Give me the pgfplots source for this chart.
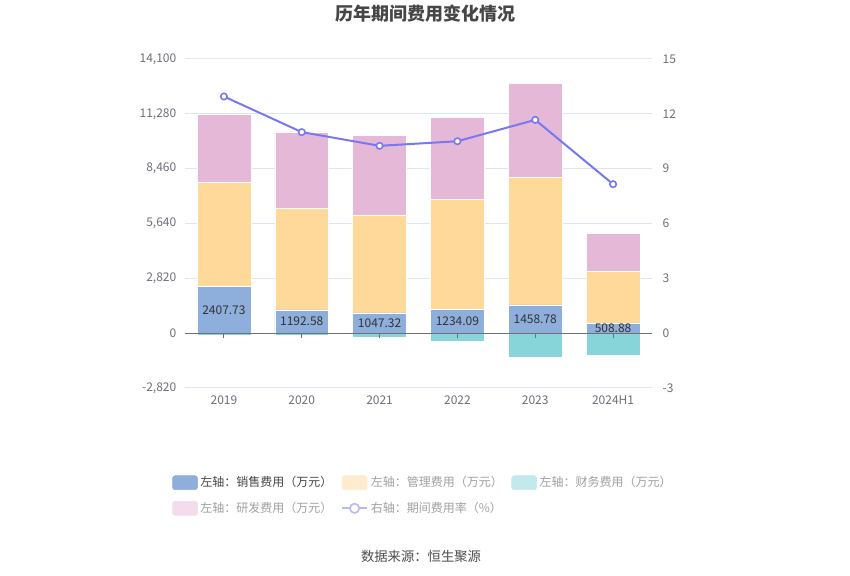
\documentclass[border=0pt]{standalone}
\usepackage{fontspec}
\setmainfont{Noto Sans CJK SC}
\usepackage{pgfplots}
\pgfplotsset{compat=1.18}
\definecolor{salesc}{RGB}{142,174,219}
\definecolor{mgmtc}{RGB}{255,217,154}
\definecolor{finc}{RGB}{135,213,216}
\definecolor{rdc}{RGB}{230,184,216}
\definecolor{linec}{RGB}{120,120,245}
\definecolor{gridc}{RGB}{224,230,241}
\definecolor{axisc}{RGB}{110,112,121}
\definecolor{labc}{RGB}{110,112,121}
\definecolor{mgmtL}{RGB}{255,236,206}
\definecolor{finL}{RGB}{194,234,236}
\definecolor{rdL}{RGB}{243,220,236}
\definecolor{lineL}{RGB}{185,185,250}
\definecolor{legd}{RGB}{70,70,70}
\definecolor{legl}{RGB}{160,160,160}
\definecolor{titc}{RGB}{70,70,70}
\begin{document}
\begin{tikzpicture}
\path[use as bounding box, fill=white] (0,0) rectangle (637.5pt,431.25pt);
\pgfplotsset{base/.style={at={(138.75pt,140.25pt)}, anchor=south west, scale only axis,
  width=350.25pt, height=246.75pt, xmin=-0.5, xmax=5.5, ymin=-2820, ymax=14100,
  /pgf/number format/assume math mode=true,
  ticklabel style={font=\fontsize{9}{10}\selectfont, text=labc}}}

\begin{axis}[base, ybar stacked, bar width=0.69,
  axis x line*=bottom, axis y line*=left, axis line style={draw=none}, major tick style={draw=none},
  xtick={0,...,5}, xticklabels={2019,2020,2021,2022,2023,2024H1},
  xticklabel style={yshift=-2pt},
  ytick={-2820,0,2820,5640,8460,11280,14100},
  yticklabel style={/pgf/number format/fixed, /pgf/number format/1000 sep={,}, xshift=-3pt},
  scaled y ticks=false,
  ymajorgrids, grid style={gridc, line width=0.75pt}]
\addplot[fill=salesc, draw=white, line width=0.4pt] coordinates {(0,2407.73) (1,1192.58) (2,1047.32) (3,1234.09) (4,1458.78) (5,508.88)};
\addplot[fill=mgmtc, draw=white, line width=0.4pt] coordinates {(0,5338) (1,5229) (2,5030) (3,5636) (4,6545) (5,2666)};
\addplot[fill=rdc, draw=white, line width=0.4pt] coordinates {(0,3521) (1,3932) (2,4092) (3,4242) (4,4845) (5,1943)};
\end{axis}

\begin{axis}[base, axis on top, axis x line=middle, axis y line=none,
  xtick={0,...,5}, xticklabels={}, ytick=\empty,
  tick align=outside, major tick length=3.75pt,
  axis line style={axisc, line width=0.75pt, -},
  x tick style={axisc, line width=0.75pt}]
\addplot[ybar, bar width=0.69, bar shift=0pt, fill=finc, draw=white, line width=0.4pt] coordinates {(0,-108) (1,-100) (2,-190) (3,-397) (4,-1258) (5,-1139)};
\addplot[draw=none, mark=none, nodes near coords, point meta=explicit symbolic,
  every node near coord/.append style={anchor=center, font=\fontsize{9}{10}\selectfont, text=black!80}]
  coordinates {(0,1203.87)[2407.73] (1,596.29)[1192.58] (2,523.66)[1047.32] (3,617.05)[1234.09] (4,729.39)[1458.78] (5,254.44)[508.88]};
\end{axis}

\begin{axis}[base, ymin=-3, ymax=15, ytick={-3,0,3,6,9,12,15},
  axis y line*=right, axis x line=none, axis line style={draw=none}, major tick style={draw=none},
  yticklabel style={xshift=4.5pt},
  legend columns=3, legend cell align=left,
  legend style={at={(-0.0364,-0.2522)}, anchor=north west, draw=none, fill=none,
    font=\fontsize{9}{10.5}\selectfont, row sep=6pt,
    /tikz/every even column/.append style={column sep=4.5pt}}]
\addlegendimage{legend image code/.code={\fill[salesc, rounded corners=2pt] (0pt,-5.25pt) rectangle (18.75pt,5.25pt);}}
\addlegendentry[text=legd]{左轴：销售费用（万元）}
\addlegendimage{legend image code/.code={\fill[mgmtL, rounded corners=2pt] (0pt,-5.25pt) rectangle (18.75pt,5.25pt);}}
\addlegendentry[text=legl]{左轴：管理费用（万元）}
\addlegendimage{legend image code/.code={\fill[finL, rounded corners=2pt] (0pt,-5.25pt) rectangle (18.75pt,5.25pt);}}
\addlegendentry[text=legl]{左轴：财务费用（万元）}
\addlegendimage{legend image code/.code={\fill[rdL, rounded corners=2pt] (0pt,-5.25pt) rectangle (18.75pt,5.25pt);}}
\addlegendentry[text=legl]{左轴：研发费用（万元）}
\addlegendimage{legend image code/.code={\draw[lineL, line width=1.5pt] (0pt,0pt) -- (18.75pt,0pt); \draw[lineL, line width=1.2pt, fill=white] (9.375pt,0pt) circle (3.5pt);}}
\addlegendentry[text=legl]{右轴：期间费用率（\%）}
\addplot[forget plot, linec, line width=1.5pt, mark=*, mark size=2.4pt, mark options={fill=white, draw=linec, line width=1.2pt}]
  coordinates {(0,12.95) (1,11.0) (2,10.25) (3,10.5) (4,11.67) (5,8.15)};
\end{axis}

\node[font=\bfseries\fontsize{13.5}{15}\selectfont, text=titc] at (318.75pt,420.75pt) {历年期间费用变化情况};
\node[font=\fontsize{10}{12}\selectfont, text=black!70] at (315.75pt,14.25pt) {数据来源：恒生聚源};
\end{tikzpicture}
\end{document}
